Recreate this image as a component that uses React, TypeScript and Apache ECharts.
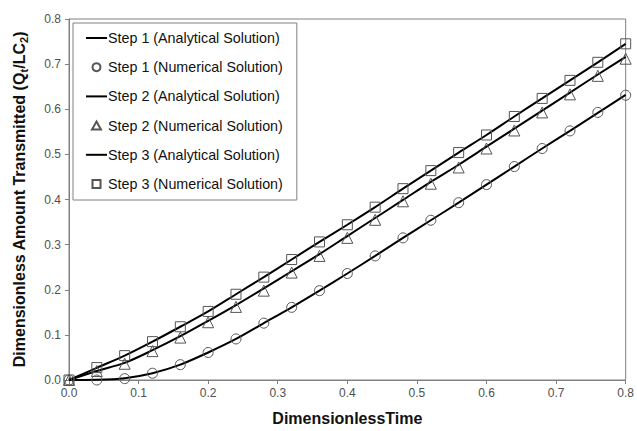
import React, { useEffect, useRef } from "react";
import * as echarts from "echarts";

// Dimensionless time at which the solutions are sampled
const times = [0, 0.04, 0.08, 0.12, 0.16, 0.2, 0.24, 0.28, 0.32, 0.36, 0.4, 0.44, 0.48, 0.52, 0.56, 0.6, 0.64, 0.68, 0.72, 0.76, 0.8];

// Analytical solutions (Qt/LC2)
const step1Analytical = [0, 0.0005, 0.004, 0.015, 0.034, 0.061, 0.091, 0.126, 0.161, 0.198, 0.236, 0.275, 0.315, 0.354, 0.393, 0.433, 0.473, 0.513, 0.552, 0.592, 0.632];
const step2Analytical = [0, 0.02, 0.038, 0.066, 0.097, 0.131, 0.166, 0.203, 0.241, 0.279, 0.319, 0.359, 0.399, 0.439, 0.477, 0.517, 0.557, 0.597, 0.637, 0.677, 0.716];
const step3Analytical = [0, 0.027, 0.054, 0.085, 0.118, 0.152, 0.19, 0.228, 0.267, 0.306, 0.344, 0.383, 0.424, 0.464, 0.504, 0.543, 0.584, 0.624, 0.664, 0.704, 0.745];

// Numerical solutions (Qt/LC2)
const step1Numerical = [0, 0, 0.003, 0.015, 0.034, 0.061, 0.091, 0.126, 0.161, 0.198, 0.236, 0.275, 0.315, 0.354, 0.393, 0.433, 0.473, 0.513, 0.552, 0.593, 0.631];
const step2Numerical = [0, 0.02, 0.036, 0.064, 0.094, 0.128, 0.162, 0.198, 0.238, 0.275, 0.315, 0.355, 0.396, 0.435, 0.471, 0.513, 0.553, 0.593, 0.633, 0.674, 0.712];
const step3Numerical = [0, 0.0275, 0.054, 0.085, 0.118, 0.152, 0.19, 0.228, 0.267, 0.306, 0.344, 0.383, 0.424, 0.464, 0.504, 0.543, 0.584, 0.624, 0.664, 0.704, 0.745];

const seriesNames = [
  "Step 1 (Analytical Solution)",
  "Step 1 (Numerical Solution)",
  "Step 2 (Analytical Solution)",
  "Step 2 (Numerical Solution)",
  "Step 3 (Analytical Solution)",
  "Step 3 (Numerical Solution)",
];

const FONT = "'Liberation Sans', Arial, sans-serif";
const AXIS_GRAY = "#808080";
const LABEL_GRAY = "#505050";
const SYMBOL_GRAY = "#555555";

// Legend icons (kept at their aspect ratio inside the legend item box)
const LINE_ICON = "path://M0,0 L21,0 L21,2 L0,2 Z";
const CIRCLE_ICON = "circle";
const TRIANGLE_ICON = "path://M5,0 L10,9 L0,9 Z";
const SQUARE_ICON = "path://M0,0 L9,0 L9,9 L0,9 Z";
const legendIcons = [LINE_ICON, CIRCLE_ICON, LINE_ICON, TRIANGLE_ICON, LINE_ICON, SQUARE_ICON];

const pair = (ys: number[]) => times.map((t, i) => [t, ys[i]]);

function analytical(name: string, ys: number[]) {
  return {
    name,
    type: "line",
    data: pair(ys),
    smooth: 0.3,
    showSymbol: false,
    symbol: "none",
    lineStyle: { color: "#000", width: 2 },
    itemStyle: { color: "#000" },
    z: 2,
  };
}

function numerical(name: string, ys: number[], symbol: string, size: number) {
  return {
    name,
    type: "scatter",
    data: pair(ys),
    symbol,
    symbolSize: size,
    itemStyle: { color: "rgba(0,0,0,0)", borderColor: SYMBOL_GRAY, borderWidth: 1, opacity: 1 },
    z: 3,
  };
}

export default function App() {
  const ref = useRef<HTMLDivElement>(null);

  useEffect(() => {
    if (!ref.current) return;
    const chart = echarts.init(ref.current, undefined, { renderer: "svg" });

    const tickLabel = {
      color: LABEL_GRAY,
      fontSize: 12,
      fontFamily: FONT,
      formatter: (v: number) => v.toFixed(1),
    };

    chart.setOption({
      animation: false,
      backgroundColor: "#fff",
      grid: {
        left: 69,
        right: 8,
        top: 19,
        bottom: 45,
        show: true,
        borderColor: AXIS_GRAY,
        borderWidth: 1,
      },
      legend: {
        orient: "vertical",
        left: 73,
        top: 23,
        data: seriesNames.map((name, i) => ({ name, icon: legendIcons[i] })),
        itemWidth: 21,
        itemHeight: 8,
        itemGap: 13.2,
        padding: [7, 14, 8, 13],
        borderColor: AXIS_GRAY,
        borderWidth: 1,
        backgroundColor: "#fff",
        textStyle: {
          color: "#111",
          fontSize: 14.3,
          lineHeight: 16,
          fontFamily: FONT,
          padding: [0, 0, 0, -4],
        },
      },
      xAxis: {
        type: "value",
        min: 0,
        max: 0.8,
        interval: 0.1,
        name: "DimensionlessTime",
        nameLocation: "middle",
        nameGap: 30,
        nameTextStyle: { color: "#111", fontSize: 16, fontWeight: "bold", fontFamily: FONT },
        axisLine: { show: true, onZero: false, lineStyle: { color: AXIS_GRAY, width: 1 } },
        axisTick: { show: true, length: 4, lineStyle: { color: AXIS_GRAY } },
        axisLabel: { ...tickLabel, margin: 7 },
        splitLine: { show: false },
      },
      yAxis: {
        type: "value",
        min: 0,
        max: 0.8,
        interval: 0.1,
        name: "Dimensionless Amount Transmitted (Q{sub|t}/LC{sub|2})",
        nameLocation: "middle",
        nameRotate: 90,
        nameGap: 42,
        nameTextStyle: {
          color: "#111",
          fontSize: 16,
          fontWeight: "bold",
          fontFamily: FONT,
          lineHeight: 16,
          rich: {
            sub: {
              color: "#111",
              fontSize: 11,
              fontWeight: "bold",
              fontFamily: FONT,
              lineHeight: 11,
              padding: [9, 0, 0, 0],
            },
          },
        },
        axisLine: { show: true, onZero: false, lineStyle: { color: AXIS_GRAY, width: 1 } },
        axisTick: { show: true, length: 4, lineStyle: { color: AXIS_GRAY } },
        axisLabel: { ...tickLabel, margin: 8 },
        splitLine: { show: false },
      },
      series: [
        analytical(seriesNames[0], step1Analytical),
        numerical(seriesNames[1], step1Numerical, "circle", 10),
        analytical(seriesNames[2], step2Analytical),
        numerical(seriesNames[3], step2Numerical, "triangle", 11),
        analytical(seriesNames[4], step3Analytical),
        numerical(seriesNames[5], step3Numerical, "rect", 10),
      ],
    });

    return () => chart.dispose();
  }, []);

  return (
    <div
      ref={ref}
      style={{ position: "fixed", left: 0, top: 0, width: 637, height: 431, background: "#fff" }}
    />
  );
}
